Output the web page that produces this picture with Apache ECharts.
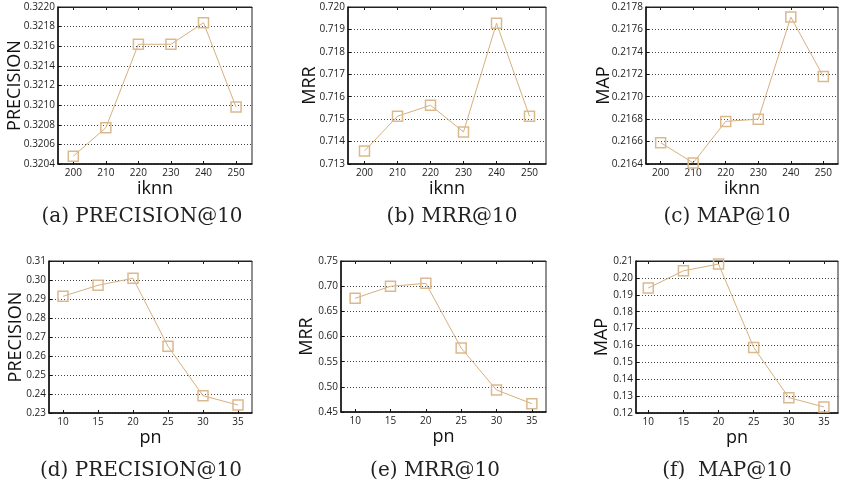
<!DOCTYPE html>
<html>
<head>
<meta charset="utf-8">
<script src="https://cdn.jsdelivr.net/npm/echarts@6/dist/echarts.min.js"></script>
<style>
  html, body { margin: 0; padding: 0; background: #fff; }
  #chart { width: 845px; height: 491px; }
</style>
</head>
<body>
<div id="chart"></div>
<script>
// ---- data ----
const iknnValues = [200, 210, 220, 230, 240, 250];
const pnValues = [10, 15, 20, 25, 30, 35];

const precisionIknn = [0.32048, 0.32077, 0.32162, 0.32162, 0.32184, 0.32098];
const mrrIknn = [0.71358, 0.71513, 0.71562, 0.71443, 0.71927, 0.71513];
const mapIknn = [0.21659, 0.21641, 0.21678, 0.21680, 0.21771, 0.21718];

const precisionPn = [0.2914, 0.2972, 0.3009, 0.2651, 0.2391, 0.2342];
const mrrPn = [0.6759, 0.6997, 0.7057, 0.5770, 0.4937, 0.4666];
const mapPn = [0.1940, 0.2042, 0.2082, 0.1588, 0.1291, 0.1236];

const captions = ['(a) PRECISION@10', '(b) MRR@10', '(c) MAP@10',
                  '(d) PRECISION@10', '(e) MRR@10', '(f)  MAP@10'];
const yNames = ['PRECISION', 'MRR', 'MAP', 'PRECISION', 'MRR', 'MAP'];
const xNames = ['iknn', 'iknn', 'iknn', 'pn', 'pn', 'pn'];

// y-axis ranges: [min, max, interval, decimals]
const yRanges = [
  [0.3204, 0.3220, 0.0002, 4],
  [0.713, 0.720, 0.001, 3],
  [0.2164, 0.2178, 0.0002, 4],
  [0.23, 0.31, 0.01, 2],
  [0.45, 0.75, 0.05, 2],
  [0.12, 0.21, 0.01, 2]
];

// ---- layout ----
const panels = [
  { grid: [58, 7, 194, 157], xr: [195.3, 254.9], nameGap: 34, xGap: 16, cap: [142, 217] },
  { grid: [348, 7, 198, 157], xr: [195, 255], nameGap: 29, xGap: 16, cap: [452, 217] },
  { grid: [646, 7, 192, 157], xr: [195.5, 254.5], nameGap: 33, xGap: 16, cap: [727, 217] },
  { grid: [49, 261, 203, 152], xr: [8, 37], nameGap: 24, xGap: 16, cap: [141, 471] },
  { grid: [341, 261, 205, 151], xr: [8, 37], nameGap: 25, xGap: 16, cap: [435, 471] },
  { grid: [636, 261, 202, 152], xr: [8.25, 37], nameGap: 25, xGap: 16, cap: [727, 471] }
];

const seriesData = [
  [iknnValues, precisionIknn], [iknnValues, mrrIknn], [iknnValues, mapIknn],
  [pnValues, precisionPn], [pnValues, mrrPn], [pnValues, mapPn]
];

const sansFont = '"Open Sans", "DejaVu Sans", sans-serif';
const lineColor = '#d7b07f';
const markerColor = '#dbb98e';

const grids = [], xAxes = [], yAxes = [], series = [], graphics = [];
panels.forEach((p, i) => {
  const [l, t, w, h] = p.grid;
  grids.push({
    left: l, top: t, width: w, height: h,
    show: true, borderColor: '#222', borderWidth: 1, backgroundColor: '#fff'
  });
  const xs = seriesData[i][0];
  xAxes.push({
    gridIndex: i, type: 'value', min: p.xr[0], max: p.xr[1], position: 'bottom',
    name: xNames[i], nameLocation: 'middle', nameGap: p.xGap, nameMoveOverlap: false,
    nameTextStyle: { fontFamily: sansFont, fontSize: 18, color: '#111' },
    axisLine: { show: true, onZero: false, lineStyle: { color: '#111', width: 1.5 } },
    axisTick: { show: true, inside: true, length: 3, customValues: xs, lineStyle: { color: '#111' } },
    axisLabel: { customValues: xs, fontFamily: sansFont, fontSize: 10, color: '#222', margin: 4 },
    splitLine: { show: false }
  });
  // top mirror axis (ticks only)
  xAxes.push({
    gridIndex: i, type: 'value', min: p.xr[0], max: p.xr[1], position: 'top',
    axisLine: { show: true, onZero: false, lineStyle: { color: '#222', width: 1 } },
    axisTick: { show: true, inside: true, length: 3, customValues: xs, lineStyle: { color: '#222' } },
    axisLabel: { show: false },
    splitLine: { show: false }
  });
  const [ymin, ymax, yint, dec] = yRanges[i];
  yAxes.push({
    gridIndex: i, type: 'value', min: ymin, max: ymax, interval: yint,
    name: yNames[i], nameLocation: 'middle', nameGap: p.nameGap, nameMoveOverlap: false,
    nameTextStyle: { fontFamily: sansFont, fontSize: 18, color: '#111' },
    axisLine: { show: true, lineStyle: { color: '#111', width: 1.5 } },
    axisTick: { show: true, inside: true, length: 3, lineStyle: { color: '#111' } },
    axisLabel: {
      fontFamily: sansFont, fontSize: 10, color: '#222', margin: 3,
      formatter: v => v.toFixed(dec)
    },
    splitLine: { show: true, lineStyle: { type: [1, 2], color: '#444', width: 1 } }
  });
  series.push({
    type: 'line', xAxisIndex: i * 2, yAxisIndex: i,
    data: xs.map((x, k) => [x, seriesData[i][1][k]]),
    symbol: 'rect', symbolSize: 10,
    lineStyle: { color: lineColor, width: 1 },
    itemStyle: { color: 'rgba(0,0,0,0)', borderColor: markerColor, borderWidth: 1.5 },
    clip: false, animation: false
  });
  graphics.push({
    type: 'text', x: p.cap[0], y: p.cap[1],
    style: {
      text: captions[i], font: '20px "DejaVu Serif", serif',
      fill: '#222', align: 'center', verticalAlign: 'middle'
    }
  });
});

const chart = echarts.init(document.getElementById('chart'), null, { renderer: 'canvas' });
chart.setOption({
  animation: false,
  backgroundColor: '#fff',
  grid: grids,
  xAxis: xAxes,
  yAxis: yAxes,
  series: series,
  graphic: graphics
});
</script>
</body>
</html>
